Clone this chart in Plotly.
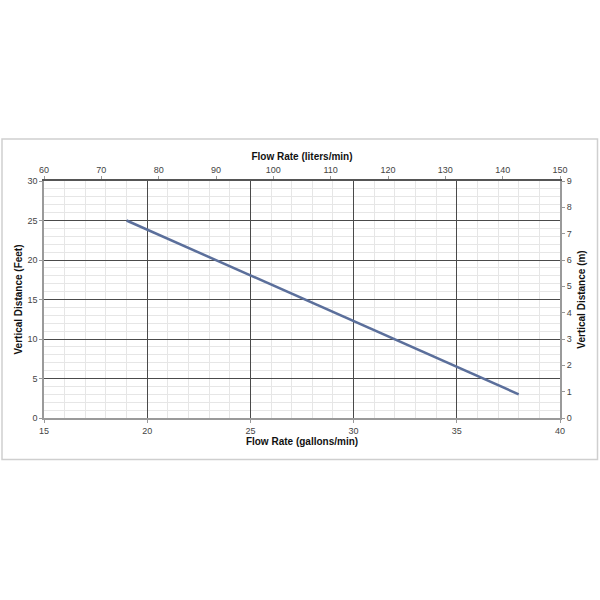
import plotly.graph_objects as go

# Data
flow_gpm = [19, 38]          # Flow rate (gallons/min)
head_ft = [25, 3]            # Vertical distance (feet)

x_bottom_ticks = [15, 20, 25, 30, 35, 40]
x_top_ticks = [60, 70, 80, 90, 100, 110, 120, 130, 140, 150]
y_left_ticks = [0, 5, 10, 15, 20, 25, 30]
y_right_ticks = [0, 1, 2, 3, 4, 5, 6, 7, 8, 9]

FONT = "Liberation Sans, Arial, sans-serif"
tick_font = dict(family=FONT, size=9, color="#444444")
title_font = dict(family=FONT, size=10, color="#111111")

fig = go.Figure()
fig.add_trace(go.Scatter(
    x=flow_gpm, y=head_ft, mode="lines",
    line=dict(color="#5b6f9b", width=2.5),
    showlegend=False, hoverinfo="skip",
))
# invisible trace to activate secondary axes
fig.add_trace(go.Scatter(
    x=[x_top_ticks[0], x_top_ticks[-1]], y=[y_right_ticks[0], y_right_ticks[-1]],
    mode="markers", marker=dict(opacity=0), xaxis="x2", yaxis="y2",
    showlegend=False, hoverinfo="skip",
))

W, H = 600, 600
L, R, T, B = 44, 40, 181, 182
major = "#4a4a4a"
minor_c = "#e6e6e6"
fig.update_layout(
    width=W, height=H,
    margin=dict(l=L, r=R, t=T, b=B),
    paper_bgcolor="white", plot_bgcolor="white",
    xaxis=dict(
        range=[15, 40], tickvals=x_bottom_ticks, ticks="outside", ticklen=3,
        tickcolor="#999999", showgrid=True, gridcolor=major, gridwidth=1.4,
        minor=dict(dtick=1, showgrid=True, gridcolor=minor_c, gridwidth=1),
        showline=True, linecolor="#9a9a9a", linewidth=1.5,
        tickfont=tick_font, zeroline=False,
        title=dict(text="<b>Flow Rate (gallons/min)</b>", font=title_font, standoff=3),
    ),
    yaxis=dict(
        range=[0, 30], tickvals=y_left_ticks, ticks="outside", ticklen=3,
        tickcolor="#999999", showgrid=True, gridcolor=major, gridwidth=1.4,
        minor=dict(dtick=1, showgrid=True, gridcolor=minor_c, gridwidth=1),
        showline=True, linecolor="#9a9a9a", linewidth=1.5,
        tickfont=tick_font, zeroline=False,
        title=dict(text="<b>Vertical Distance (Feet)</b>", font=title_font, standoff=3),
    ),
    xaxis2=dict(
        range=[60, 150], tickvals=x_top_ticks, overlaying="x", side="top",
        ticks="outside", ticklen=3, tickcolor="#999999", showgrid=False,
        showline=True, linecolor="#555555", linewidth=1.5,
        tickfont=tick_font, zeroline=False,
        title=dict(text="<b>Flow Rate (liters/min)</b>", font=title_font, standoff=2),
    ),
    yaxis2=dict(
        range=[0, 9], tickvals=y_right_ticks, overlaying="y", side="right",
        ticks="outside", ticklen=3, tickcolor="#999999", showgrid=False,
        showline=True, linecolor="#9a9a9a", linewidth=2,
        tickfont=tick_font, zeroline=False,
        title=dict(text="<b>Vertical Distance (m)</b>", font=title_font, standoff=7),
    ),
)

# outer chart border (page pixel coordinates converted to paper units)
pw, ph = W - L - R, H - T - B
py1 = H - B
fig.add_shape(
    type="rect", xref="paper", yref="paper", layer="below",
    x0=(2 - L) / pw, x1=(597.5 - L) / pw,
    y0=(py1 - 459.5) / ph, y1=(py1 - 139) / ph,
    line=dict(color="#cfcfcf", width=1.5), fillcolor="rgba(0,0,0,0)",
)

fig.write_html("out.html", config={"displayModeBar": False},
               post_script="document.body.style.margin='0';")
